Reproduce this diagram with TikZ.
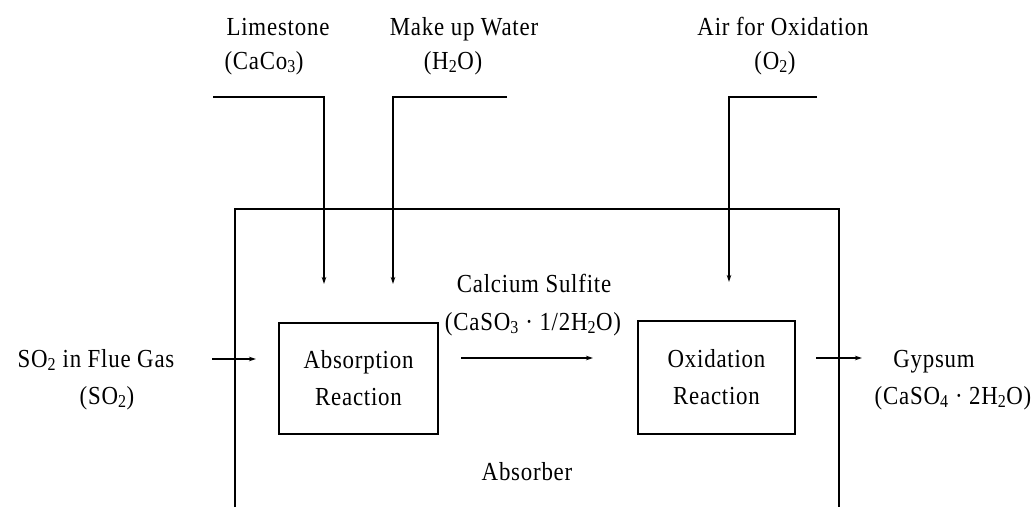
\documentclass[tikz,border=0pt]{standalone}
\usepackage{fontspec}
\setmainfont{Liberation Serif}[FakeStretch=0.88,LetterSpace=3]
\usetikzlibrary{arrows.meta}
\begin{document}
\begin{tikzpicture}[x=1pt,y=-1pt,
  lbl/.style={font=\fontsize{26}{37}\selectfont, inner sep=0pt, anchor=base},
  reactbox/.style={draw, line width=1.4pt, font=\fontsize{26}{37}\selectfont, align=center, inner sep=0pt},
  feed/.style={line width=1.4pt, -{Stealth[length=7pt,width=4.5pt]}},
  flow/.style={line width=1.1pt, -{Stealth[length=7pt,width=4.5pt]}},
  wall/.style={line width=1.8pt}]
\useasboundingbox (0,0) rectangle (1033,507);

% texts
\node[lbl] (lime) at (278,35) {Limestone};
\node[lbl] (limef) at (264,69) {(CaCo\textsubscript{3})};
\node[lbl] (water) at (464,35) {Make up Water};
\node[lbl] (waterf) at (453,69) {(H\textsubscript{2}O)};
\node[lbl] (air) at (783,35) {Air for Oxidation};
\node[lbl] (airf) at (775,69) {(O\textsubscript{2})};
\node[lbl] (sulf) at (534,292) {Calcium Sulfite};
\node[lbl] (sulff) at (533,330) {(CaSO\textsubscript{3} · 1/2H\textsubscript{2}O)};
\node[lbl] (so2) at (96,367) {SO\textsubscript{2} in Flue Gas};
\node[lbl] (so2f) at (107,404) {(SO\textsubscript{2})};
\node[lbl] (gyp) at (934,367) {Gypsum};
\node[lbl] (gypf) at (953,404) {(CaSO\textsubscript{4} · 2H\textsubscript{2}O)};
\node[lbl] (absorber) at (527,480) {Absorber};

% reaction boxes
\node[reactbox, minimum width=159pt, minimum height=111pt] (absbox) at (358.5,378.5) {Absorption\\Reaction};
\node[reactbox, minimum width=157pt, minimum height=113pt] (oxbox) at (716.5,377.5) {Oxidation\\Reaction};

% absorber vessel (open at bottom)
\coordinate (wbl) at (235,507);
\coordinate (wtl) at (235,209);
\coordinate (wtr) at (839,209);
\coordinate (wbr) at (839,507);
\draw[wall] (wbl) -- (wtl) -- (wtr) -- (wbr);

% feed lines
\coordinate (limeS) at (213,97);
\coordinate (limeE) at (324,284);
\coordinate (waterS) at (507,97);
\coordinate (waterE) at (393,284);
\coordinate (airS) at (817,97);
\coordinate (airE) at (729,282);
\draw[feed] (limeS) -| (limeE);
\draw[feed] (waterS) -| (waterE);
\draw[feed] (airS) -| (airE);

% horizontal flows
\coordinate (inS) at (212,359);
\coordinate (inE) at (256,359);
\coordinate (midS) at (461,358);
\coordinate (midE) at (593,358);
\coordinate (outS) at (816,358);
\coordinate (outE) at (862,358);
\draw[flow] (inS) -- (inE);
\draw[flow] (midS) -- (midE);
\draw[flow] (outS) -- (outE);
\end{tikzpicture}
\end{document}
